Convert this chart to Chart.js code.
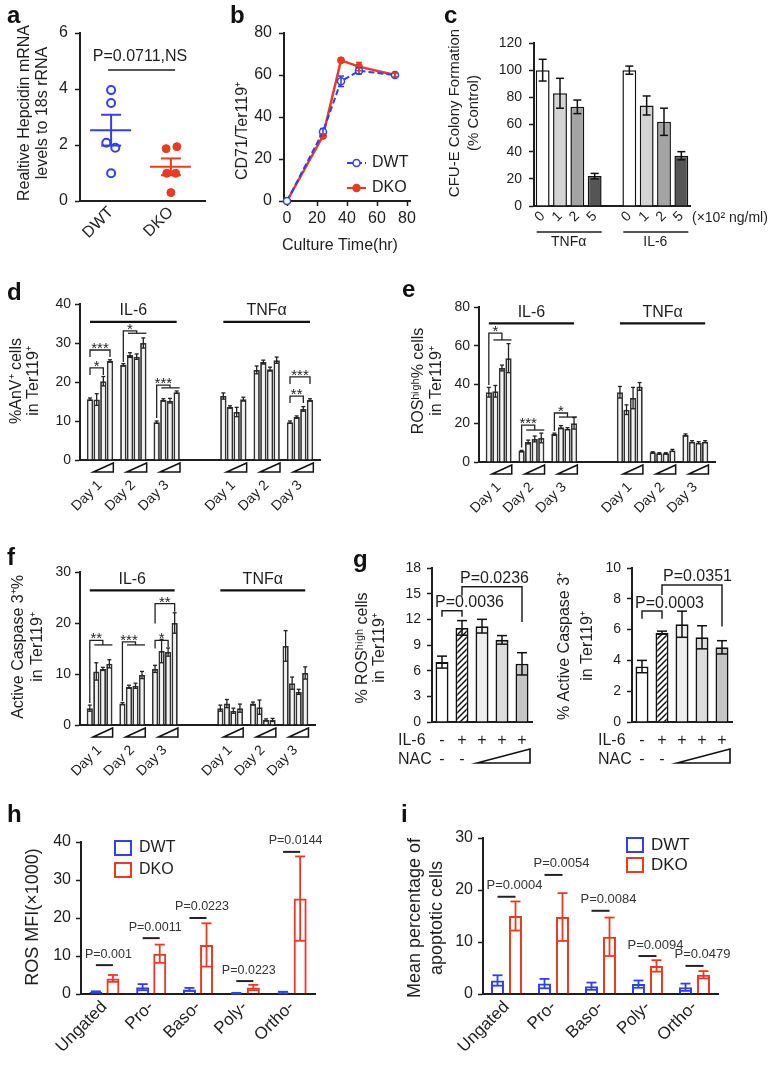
<!DOCTYPE html>
<html><head><meta charset="utf-8"><title>Figure</title>
<script src="https://cdn.jsdelivr.net/npm/chart.js@4.4.1/dist/chart.umd.min.js"></script>
<style>
html,body{margin:0;padding:0;background:#fff;}
#wrap{position:relative;width:772px;height:1068px;overflow:hidden;background:#fff;}
#wrap canvas{position:absolute;left:0;top:0;}
</style></head>
<body><div id="wrap"></div>
<script>
// ===================== DATA =====================
// Panel a
const aGroups = ['DWT', 'DKO'];
const aDWTx = [1.0, 1.0, 0.92, 1.07, 1.0];
const aDWTy = [3.96, 3.5, 2.08, 1.9, 0.99];
const aDKOx = [1.92, 2.1, 1.93, 2.08, 2.0];
const aDKOy = [1.87, 1.94, 0.99, 0.99, 0.3];
const aMean = [2.53, 1.22];
const aSEM = [0.55, 0.3];
const aPLabel = 'P=0.0711,NS';
const aPLevel = 4.68;

// Panel b
const bTime = [0, 24, 36, 48, 72];
const bDWT = [0, 33, 57, 62, 60];
const bDWTerr = [0, 1.5, 2.5, 1.5, 1];
const bDKO = [0, 31, 67, 64, 60];
const bDKOerr = [0, 1, 1, 2, 1];
const bXTicks = [0, 20, 40, 60, 80];

// Panel c
const cDoses = ['0', '1', '2', '5'];
const cTNF = [100, 83, 73, 22];
const cTNFerr = [8, 11, 5, 2];
const cIL6 = [100, 74, 62, 37];
const cIL6err = [3, 7, 10, 3];

// Panels d-f (4 doses per day, days 1-3)
const dayLabels = ['Day 1', 'Day 2', 'Day 3'];
const dIL6 = [15.6, 15.5, 20.2, 25.4, 24.4, 26.9, 26.5, 30.0, 9.7, 15.4, 15.2, 17.4];
const dIL6err = [0.3, 1.5, 1.2, 0.3, 0.3, 0.6, 0.7, 1.3, 0.3, 0.3, 0.6, 0.3];
const dTNF = [16.4, 13.6, 12.3, 15.6, 23.1, 25.1, 23.3, 25.6, 9.7, 11.0, 13.1, 15.4];
const dTNFerr = [0.8, 0.3, 1.2, 0.5, 1.0, 0.5, 0.5, 0.8, 0.3, 0.3, 0.6, 0.3];
const eIL6 = [36.0, 36.5, 48.5, 53.6, 5.7, 10.3, 11.9, 12.4, 14.4, 18.0, 17.2, 20.0];
const eIL6err = [2.5, 3.0, 1.5, 7.5, 0.3, 1.0, 1.5, 2.5, 0.5, 0.8, 0.5, 3.0];
const eTNF = [36.0, 27.0, 33.0, 39.0, 5.0, 4.5, 4.5, 6.0, 14.0, 10.5, 10.0, 10.5];
const eTNFerr = [3.0, 2.5, 5.5, 2.0, 0.3, 0.3, 0.3, 0.5, 0.5, 0.5, 0.5, 0.5];
const fIL6 = [3.3, 10.5, 11.0, 12.0, 4.2, 7.5, 7.7, 9.8, 11.0, 14.5, 14.3, 20.0];
const fIL6err = [0.6, 1.7, 0.3, 0.8, 0.2, 0.3, 0.5, 0.7, 0.7, 2.3, 0.8, 2.0];
const fTNF = [3.3, 4.2, 2.8, 3.3, 4.2, 3.5, 1.0, 1.0, 15.5, 8.2, 6.5, 10.2];
const fTNFerr = [0.6, 0.8, 0.5, 0.8, 0.3, 1.4, 0.2, 0.3, 3.0, 1.2, 0.5, 1.2];

// Panel g
const gIL6Row = ['-', '+', '+', '+', '+'];
const gNACRow = ['-', '-', '', '', ''];
const gROS = [7.0, 11.0, 11.2, 9.6, 6.8];
const gROSerr = [0.7, 0.85, 0.8, 0.5, 1.3];
const gCasp = [3.6, 5.8, 6.35, 5.5, 4.85];
const gCaspErr = [0.4, 0.1, 0.85, 0.75, 0.43];

// Panels h, i
const stages = ['Ungated', 'Pro-', 'Baso-', 'Poly-', 'Ortho-'];
const hDWT = [0.5, 1.8, 1.2, 0.2, 0.4];
const hDWTerr = [0.2, 0.8, 0.4, 0.1, 0.2];
const hDKO = [4.1, 10.6, 12.9, 1.7, 25.1];
const hDKOerr = [0.9, 2.4, 5.7, 0.7, 11.1];
const hP = ['P=0.001', 'P=0.0011', 'P=0.0223', 'P=0.0223', 'P=0.0144'];
const hPLevel = [7.6, 14.7, 20.0, 3.4, 37.4];
const iDWT = [2.6, 2.0, 1.5, 1.9, 1.3];
const iDWTerr = [1.0, 0.9, 0.7, 0.7, 0.7];
const iDKO = [15.0, 14.8, 11.0, 5.4, 3.7];
const iDKOerr = [2.8, 4.6, 3.7, 1.1, 0.7];
const iP = ['P=0.0004', 'P=0.0054', 'P=0.0084', 'P=0.0094', 'P=0.0479'];
const iPLevel = [18.7, 22.9, 16.0, 7.3, 5.4];

// ===================== HELPERS =====================
const W = 772, H = 1068, YW = 40, XH = 70;
const F = "'Liberation Sans', Arial, Helvetica, sans-serif";
const INK = '#1e1e1e', BLUE = '#3040f0', RED = '#ea3a22';

function mkCanvas() {
  const c = document.createElement('canvas');
  c.width = W; c.height = H; c.style.width = W + 'px'; c.style.height = H + 'px';
  document.getElementById('wrap').appendChild(c);
  return c;
}
function fnt(size, bold) { return (bold ? 'bold ' : '') + size + 'px ' + F; }
function T(ctx, s, x, y, size, align, o) {
  o = o || {};
  ctx.save(); ctx.font = fnt(size, o.bold); ctx.fillStyle = o.color || INK;
  ctx.textAlign = align || 'center'; ctx.textBaseline = o.base || 'middle';
  if (o.rot) { ctx.translate(x, y); ctx.rotate(o.rot); ctx.fillText(s, 0, 0); } else ctx.fillText(s, x, y);
  ctx.restore();
}
function L(ctx, pts, color, lw, dash) {
  ctx.save(); ctx.strokeStyle = color || INK; ctx.lineWidth = lw || 1.5; ctx.setLineDash(dash || []);
  ctx.beginPath(); pts.forEach((p, i) => i ? ctx.lineTo(p[0], p[1]) : ctx.moveTo(p[0], p[1])); ctx.stroke(); ctx.restore();
}
function VT(ctx, lines, xs, yc, size) { lines.forEach((s, i) => T(ctx, s, xs[i], yc, size, 'center', { rot: -Math.PI / 2 })); }
function LET(ctx, s, x, y) { T(ctx, s, x, y, 24, 'left', { bold: true, base: 'alphabetic', color: '#111' }); }
function errBars(ch, di, errs, color, lw, cap) {
  const meta = ch.getDatasetMeta(di), ds = ch.data.datasets[di], ys = ch.scales.y, ctx = ch.ctx;
  meta.data.forEach((el, i) => {
    const raw = ds.data[i]; const v = (raw && typeof raw === 'object') ? raw.y : raw; const e = errs[i];
    if (v == null || !e) return;
    const x = el.x, y1 = ys.getPixelForValue(v + e), y2 = ys.getPixelForValue(v - e);
    L(ctx, [[x, y1], [x, y2]], color, lw);
    L(ctx, [[x - cap / 2, y1], [x + cap / 2, y1]], color, lw);
    L(ctx, [[x - cap / 2, y2], [x + cap / 2, y2]], color, lw);
  });
}
function extra(fn) { return { id: 'extra', afterDraw: fn }; }
function base(box, scales) {
  return {
    responsive: false, maintainAspectRatio: false, animation: false, events: [], devicePixelRatio: 1,
    layout: { padding: { left: box[0] - YW, top: box[1], right: W - box[2], bottom: Math.max(0, H - box[3] - XH) } },
    plugins: { legend: { display: false }, tooltip: { enabled: false } }, scales
  };
}
function yAxis(min, max, step, fs, pad) {
  return {
    type: 'linear', min, max,
    ticks: { stepSize: step, color: INK, font: { family: F, size: fs }, padding: pad },
    grid: { display: true, drawOnChartArea: false, drawTicks: true, tickLength: 5, tickColor: INK, tickWidth: 1.5, color: INK },
    border: { display: true, color: INK, width: 2 },
    afterFit(s) { s.width = YW; }
  };
}
function xLin(min, max, tickVals, cb, fs, rot, pad, ticksOn) {
  return {
    type: 'linear', min, max,
    afterBuildTicks(s) { s.ticks = tickVals.map(v => ({ value: v })); },
    ticks: { callback: cb, autoSkip: false, minRotation: rot, maxRotation: rot, color: INK, font: { family: F, size: fs }, padding: pad },
    grid: { display: !!ticksOn, drawOnChartArea: false, drawTicks: !!ticksOn, tickLength: 5, tickColor: INK, tickWidth: 1.5 },
    border: { display: true, color: INK, width: 2 },
    afterFit(s) { s.height = XH; }
  };
}
function xCat(cb, fs, rot, pad, labelOffset) {
  return {
    type: 'category',
    ticks: { callback: cb, autoSkip: false, minRotation: rot, maxRotation: rot, color: INK, font: { family: F, size: fs }, padding: pad, labelOffset: labelOffset || 0 },
    grid: { display: false, drawTicks: false },
    border: { display: true, color: INK, width: 2 },
    afterFit(s) { s.height = XH; }
  };
}

// ===================== PANEL a =====================
new Chart(mkCanvas(), {
  type: 'scatter',
  data: { datasets: [
    { label: aGroups[0], data: aDWTx.map((x, i) => ({ x, y: aDWTy[i] })), pointRadius: 4, pointBorderWidth: 2, pointBorderColor: BLUE, pointBackgroundColor: '#fff', clip: false },
    { label: aGroups[1], data: aDKOx.map((x, i) => ({ x, y: aDKOy[i] })), pointRadius: 4, pointBorderWidth: 1, pointBorderColor: RED, pointBackgroundColor: RED, clip: false }
  ] },
  options: base([80, 33, 205, 201], {
    x: xLin(0.48, 2.57, aGroups.map((_, i) => i + 1), (v, i) => aGroups[i], 16, 45, 2, false),
    y: yAxis(0, 6, 2, 16, 7)
  }),
  plugins: [extra(ch => {
    const { ctx, scales: { x, y } } = ch;
    [BLUE, RED].forEach((col, i) => {
      const cx = x.getPixelForValue(i + 1);
      const ym = y.getPixelForValue(aMean[i]), yt = y.getPixelForValue(aMean[i] + aSEM[i]), yb = y.getPixelForValue(aMean[i] - aSEM[i]);
      L(ctx, [[cx - 21, ym], [cx + 20, ym]], col, 2);
      L(ctx, [[cx, yt], [cx, yb]], col, 2);
      L(ctx, [[cx - 10, yt], [cx + 10, yt]], col, 2);
      L(ctx, [[cx - 10, yb], [cx + 10, yb]], col, 2);
    });
    const py = y.getPixelForValue(aPLevel);
    L(ctx, [[x.getPixelForValue(0.95), py], [x.getPixelForValue(2.07), py]], INK, 1.5);
    T(ctx, aPLabel, 140, py - 13, 16);
    VT(ctx, ['Realtive Hepcidin mRNA', 'levels to 18s rRNA'], [25, 43], 113, 16);
    LET(ctx, 'a', 7, 23);
  })]
});

// ===================== PANEL b =====================
new Chart(mkCanvas(), {
  type: 'scatter',
  data: { datasets: [
    { label: 'DWT', data: bTime.map((t, i) => ({ x: t, y: bDWT[i] })), showLine: true, borderColor: BLUE, borderWidth: 2, borderDash: [6, 3], pointRadius: 3.5, pointBorderWidth: 1.5, pointBorderColor: BLUE, pointBackgroundColor: '#fff', clip: false },
    { label: 'DKO', data: bTime.map((t, i) => ({ x: t, y: bDKO[i] })), showLine: true, borderColor: RED, borderWidth: 2.5, pointRadius: 3.5, pointBorderWidth: 1, pointBorderColor: RED, pointBackgroundColor: RED, clip: false }
  ] },
  options: base([284, 33, 410, 201], {
    x: xLin(-2, 82, bXTicks, v => v, 16, 0, 3, true),
    y: yAxis(0, 80, 20, 16, 7)
  }),
  plugins: [extra(ch => {
    const ctx = ch.ctx;
    errBars(ch, 0, bDWTerr, BLUE, 1.5, 6);
    errBars(ch, 1, bDKOerr, RED, 1.5, 6);
    const lg = [[0, 163, true], [1, 188, false]];
    lg.forEach(([k, yy, open]) => {
      const ds = ch.data.datasets[k];
      L(ctx, [[347, yy], [366, yy]], ds.borderColor, 2, ds.borderDash || []);
      ctx.save(); ctx.beginPath(); ctx.arc(356.5, yy, 3.5, 0, Math.PI * 2);
      ctx.fillStyle = open ? '#fff' : ds.borderColor; ctx.fill(); ctx.lineWidth = 1.5; ctx.strokeStyle = ds.borderColor; ctx.stroke(); ctx.restore();
      T(ctx, ds.label, 372, yy, 16, 'left');
    });
    T(ctx, 'Culture Time(hr)', 340, 246, 16);
    VT(ctx, ['CD71/Ter119\u207A'], [243], 131, 16);
    LET(ctx, 'b', 230, 23);
  })]
});

// ===================== PANEL c =====================
const cLabels = cDoses.concat([''], cDoses);
const cData = cTNF.concat([null], cIL6);
const cErr = cTNFerr.concat([null], cIL6err);
const cShades = ['#ffffff', '#d4d4d4', '#a4a4a4', '#555555'];
new Chart(mkCanvas(), {
  type: 'bar',
  data: { labels: cLabels, datasets: [{ data: cData, backgroundColor: cShades.concat(['#fff'], cShades), borderColor: '#111', borderWidth: 1.5, borderSkipped: 'start', barPercentage: 0.8, categoryPercentage: 1 }] },
  options: base([534, 43, 690, 206], {
    x: xCat((v, i) => cLabels[i], 14, 45, 2),
    y: yAxis(0, 120, 20, 14, 7)
  }),
  plugins: [extra(ch => {
    const ctx = ch.ctx, x = ch.scales.x;
    errBars(ch, 0, cErr, '#111', 1.5, 8);
    L(ctx, [[x.getPixelForValue(0) - 6, 232], [x.getPixelForValue(3) + 7, 232]], INK, 1.5);
    L(ctx, [[x.getPixelForValue(5) - 6, 232], [x.getPixelForValue(8) + 7, 232]], INK, 1.5);
    T(ctx, 'TNF\u03B1', (x.getPixelForValue(0) + x.getPixelForValue(3)) / 2, 242, 14);
    T(ctx, 'IL-6', (x.getPixelForValue(5) + x.getPixelForValue(8)) / 2, 242, 14);
    T(ctx, '(\u00D710\u00B2 ng/ml)', 692, 218, 14, 'left');
    VT(ctx, ['CFU-E Colony Formation', '(% Control)'], [455, 474], 113, 15);
    LET(ctx, 'c', 444, 23);
  })]
});

// ===================== PANELS d, e, f =====================
const SLOTS = 36;
const GROUP_START = [1, 6, 11, 21, 26, 31];
function slotArray(a, b) {
  const arr = new Array(SLOTS).fill(null); const all = a.concat(b);
  GROUP_START.forEach((s, g) => { for (let k = 0; k < 4; k++) arr[s + k] = all[g * 4 + k]; });
  return arr;
}
const dSig = [
  { t: 'pair', g: 0, a: 0, b: 3, top: 28.2, lab: '***' },
  { t: 'pair', g: 0, a: 0, b: 2, top: 23.6, lab: '*' },
  { t: 'grp', g: 1, top: 33.1, leg: 25.1, gy: 32.5, lab: '*' },
  { t: 'grp', g: 2, top: 19.2, leg: 10.8, gy: 18.5, lab: '***' },
  { t: 'pair', g: 5, a: 0, b: 3, top: 21.3, lab: '***' },
  { t: 'pair', g: 5, a: 0, b: 2, top: 16.4, lab: '**' }
];
const eSig = [
  { t: 'grp', g: 0, top: 66.5, leg: 39.7, gy: 63, lab: '*' },
  { t: 'grp', g: 1, top: 19, leg: 7.5, gy: 16.5, lab: '***' },
  { t: 'grp', g: 2, top: 25.3, leg: 16, gy: 23.2, lab: '*' }
];
const fSig = [
  { t: 'grp', g: 0, top: 16.6, leg: 4.3, gy: 15.7, lab: '**' },
  { t: 'grp', g: 1, top: 16.3, leg: 4.7, gy: 15.7, lab: '***' },
  { t: 'pair', g: 2, a: 0, b: 2, top: 16.6, lb: 15.0, rb: 15.3, lab: '*' },
  { t: 'pair', g: 2, a: 0, b: 3, top: 23.8, lb: 19.9, rb: 22.2, lab: '**' }
];
function dayChart(cfg) {
  const data = slotArray(cfg.il6, cfg.tnf), errs = slotArray(cfg.il6e, cfg.tnfe);
  const slotW = (cfg.box[2] - cfg.box[0]) / SLOTS;
  return new Chart(mkCanvas(), {
    type: 'bar',
    data: { labels: Array.from({ length: SLOTS }, (_, i) => 's' + i), datasets: [{ data, backgroundColor: '#f2f2f2', borderColor: '#333333', borderWidth: 1.8, borderSkipped: 'start', categoryPercentage: 0.96, barPercentage: 1 }] },
    options: base(cfg.box, {
      x: xCat((v, i) => { const g = GROUP_START.findIndex(s => s + 1 === i); return g >= 0 ? dayLabels[g % 3] : ''; }, 14, 45, 17, slotW / 2),
      y: yAxis(0, cfg.ymax, cfg.ystep, 14, 4)
    }),
    plugins: [extra(ch => {
      const ctx = ch.ctx, x = ch.scales.x, y = ch.scales.y;
      const X = i => x.getPixelForValue(i), Y = v => y.getPixelForValue(v);
      errBars(ch, 0, errs, '#222', 1.3, 4);
      const hy = Y(cfg.hdr);
      [[1, 14, 'IL-6'], [21, 34, 'TNF\u03B1']].forEach(([a, b, s]) => {
        L(ctx, [[X(a), hy], [X(b), hy]], '#111', 2.2);
        T(ctx, s, (X(a) + X(b)) / 2, hy - 11, 16);
      });
      cfg.sig.forEach(s => {
        const st = GROUP_START[s.g];
        const yt = Y(s.top);
        if (s.t === 'pair') {
          const x1 = X(st + s.a), x2 = X(st + s.b);
          const yl = s.lb != null ? Y(s.lb) : yt + 7, yr = s.rb != null ? Y(s.rb) : yt + 7;
          L(ctx, [[x1, yl], [x1, yt], [x2, yt], [x2, yr]], '#222', 1.3);
          T(ctx, s.lab, (x1 + x2) / 2, yt + 3, 15, 'center', { base: 'alphabetic' });
        } else {
          const x1 = X(st), xm = X(st + 2);
          L(ctx, [[x1, Y(s.leg)], [x1, yt], [xm, yt], [xm, Y(s.gy)]], '#222', 1.3);
          L(ctx, [[X(st + 1) - 2, Y(s.gy)], [X(st + 3) + 3, Y(s.gy)]], '#222', 1.3);
          T(ctx, s.lab, (x1 + xm) / 2, yt + 3, 15, 'center', { base: 'alphabetic' });
        }
      });
      const ay = y.bottom;
      GROUP_START.forEach(st => {
        const xl = X(st + 1) - slotW / 2, xr = X(st + 3) + slotW / 2;
        ctx.save(); ctx.beginPath(); ctx.moveTo(xl, ay + 12); ctx.lineTo(xr, ay + 3); ctx.lineTo(xr, ay + 12); ctx.closePath();
        ctx.fillStyle = '#fff'; ctx.fill(); ctx.strokeStyle = '#111'; ctx.lineWidth = 1.5; ctx.stroke(); ctx.restore();
      });
      VT(ctx, cfg.title, cfg.tx, cfg.ty, 16);
      LET(ctx, cfg.letter, cfg.lx, cfg.ly);
    })]
  });
}
dayChart({ box: [80, 304, 320, 460], il6: dIL6, il6e: dIL6err, tnf: dTNF, tnfe: dTNFerr, ymax: 40, ystep: 10, hdr: 35.4, sig: dSig,
  title: ['%AnV\u207A cells', 'in Ter119\u207A'], tx: [17, 34], ty: 381, letter: 'd', lx: 7, ly: 300 });
dayChart({ box: [479, 307, 715, 462], il6: eIL6, il6e: eIL6err, tnf: eTNF, tnfe: eTNFerr, ymax: 80, ystep: 20, hdr: 71.6, sig: eSig,
  title: ['ROS\u02B0\u2071\u1D4D\u02B0% cells', 'in Ter119\u207A'], tx: [419, 437], ty: 381, letter: 'e', lx: 402, ly: 297 });
dayChart({ box: [80, 572, 315, 725], il6: fIL6, il6e: fIL6err, tnf: fTNF, tnfe: fTNFerr, ymax: 30, ystep: 10, hdr: 26.4, sig: fSig,
  title: ['Active Caspase 3\u207A%', 'in Ter119\u207A'], tx: [19, 38], ty: 647, letter: 'f', lx: 7, ly: 565 });

// ===================== PANEL g =====================
function hatchFor(ctx) {
  const c = document.createElement('canvas'); c.width = 6; c.height = 6;
  const g = c.getContext('2d'); g.fillStyle = '#fff'; g.fillRect(0, 0, 6, 6);
  g.strokeStyle = '#111'; g.lineWidth = 1.5; g.beginPath();
  g.moveTo(0, 6); g.lineTo(6, 0); g.moveTo(-1, 1); g.lineTo(1, -1); g.moveTo(5, 7); g.lineTo(7, 5); g.stroke();
  return ctx.createPattern(c, 'repeat');
}
function gChart(cfg) {
  const cv = mkCanvas();
  const pat = hatchFor(cv.getContext('2d'));
  const labels = gIL6Row.map((s, i) => [s, gNACRow[i]]);
  return new Chart(cv, {
    type: 'bar',
    data: { labels: labels.map((l, i) => 'g' + i), datasets: [{ data: cfg.vals, backgroundColor: ['#ffffff', pat, '#eeeeee', '#dddddd', '#c6c6c6'], borderColor: '#111', borderWidth: 1.8, borderSkipped: 'start', categoryPercentage: 1, barPercentage: 0.65 }] },
    options: base(cfg.box, {
      x: xCat((v, i) => labels[i], 16, 0, 9),
      y: yAxis(0, cfg.ymax, cfg.ystep, 14, 6)
    }),
    plugins: [extra(ch => {
      const ctx = ch.ctx, x = ch.scales.x, y = ch.scales.y;
      const X = i => x.getPixelForValue(i), Y = v => y.getPixelForValue(v);
      errBars(ch, 0, cfg.errs, '#111', 1.5, 10);
      cfg.br.forEach(b => {
        L(ctx, [[X(b.a), Y(b.lb)], [X(b.a), Y(b.top)], [X(b.b), Y(b.top)], [X(b.b), Y(b.rb)]], '#222', 1.5);
        T(ctx, b.lab, X(b.a) + b.dx, Y(b.top) - 8, 16, 'left');
      });
      const ax = y.bottom;
      T(ctx, 'IL-6', cfg.rowX, ax + 19, 16, 'left');
      T(ctx, 'NAC', cfg.rowX, ax + 38, 16, 'left');
      const xl = X(2) - 5, xr = X(4) + 8;
      ctx.save(); ctx.beginPath(); ctx.moveTo(xl, ax + 41); ctx.lineTo(xr, ax + 27); ctx.lineTo(xr, ax + 41); ctx.closePath();
      ctx.fillStyle = '#fff'; ctx.fill(); ctx.strokeStyle = '#111'; ctx.lineWidth = 1.6; ctx.stroke(); ctx.restore();
      VT(ctx, cfg.title, cfg.tx, cfg.ty, 16);
      if (cfg.letter) LET(ctx, cfg.letter, 353, 567);
    })]
  });
}
gChart({ box: [432, 568, 532, 722], vals: gROS, errs: gROSerr, ymax: 18, ystep: 3, rowX: 398,
  br: [{ a: 0, b: 1, top: 13.0, lb: 12.3, rb: 12.3, lab: 'P=0.0036', dx: -7 }, { a: 1, b: 4, top: 15.8, lb: 14.8, rb: 11.7, lab: 'P=0.0236', dx: -2 }],
  title: ['% ROS\u02B0\u2071\u1D4D\u02B0 cells', 'in Ter119\u207A'], tx: [363, 380], ty: 648, letter: 'g' });
gChart({ box: [632, 568, 732, 722], vals: gCasp, errs: gCaspErr, ymax: 10, ystep: 2, rowX: 598,
  br: [{ a: 0, b: 1, top: 7.2, lb: 6.7, rb: 6.7, lab: 'P=0.0003', dx: -7 }, { a: 1, b: 4, top: 8.9, lb: 8.25, rb: 6.2, lab: 'P=0.0351', dx: 1 }],
  title: ['% Active Caspase 3\u207A', 'in Ter119\u207A'], tx: [565, 588], ty: 646, letter: null });

// ===================== PANELS h, i =====================
function stageChart(cfg) {
  return new Chart(mkCanvas(), {
    type: 'bar',
    data: { labels: stages, datasets: [
      { label: 'DWT', data: cfg.dwt, backgroundColor: 'rgba(255,255,255,0)', borderColor: BLUE, borderWidth: 2, borderSkipped: 'start', categoryPercentage: cfg.cp, barPercentage: cfg.bp },
      { label: 'DKO', data: cfg.dko, backgroundColor: 'rgba(255,255,255,0)', borderColor: RED, borderWidth: 2, borderSkipped: 'start', categoryPercentage: cfg.cp, barPercentage: cfg.bp }
    ] },
    options: base(cfg.box, {
      x: xCat((v, i) => stages[i], 17, 45, 3),
      y: yAxis(0, cfg.ymax, 10, 16, 5)
    }),
    plugins: [extra(ch => {
      const ctx = ch.ctx, y = ch.scales.y;
      errBars(ch, 0, cfg.dwtErr, BLUE, 1.8, 10);
      errBars(ch, 1, cfg.dkoErr, RED, 1.8, 10);
      const m0 = ch.getDatasetMeta(0).data, m1 = ch.getDatasetMeta(1).data;
      cfg.p.forEach((s, i) => {
        const yy = y.getPixelForValue(cfg.pl[i]);
        L(ctx, [[m0[i].x, yy], [m1[i].x, yy]], '#222', 2);
        T(ctx, s, (m0[i].x + m1[i].x) / 2 + cfg.pdx, yy - 11, cfg.pfs, 'center', { color: '#333' });
      });
      ch.data.datasets.forEach((ds, k) => {
        const yy = cfg.leg[1] + k * cfg.leg[2];
        ctx.save(); ctx.strokeStyle = ds.borderColor; ctx.lineWidth = 2; ctx.strokeRect(cfg.leg[0], yy - 7, 16, 14); ctx.restore();
        T(ctx, ds.label, cfg.leg[0] + 24, yy, cfg.legFs, 'left');
      });
      VT(ctx, cfg.title, cfg.tx, cfg.ty, 18);
      LET(ctx, cfg.letter, cfg.lx, cfg.ly);
    })]
  });
}
stageChart({ box: [81, 842, 315, 994], dwt: hDWT, dwtErr: hDWTerr, dko: hDKO, dkoErr: hDKOerr, ymax: 40, cp: 0.73, bp: 0.76,
  p: hP, pl: hPLevel, pdx: 4, pfs: 12.5, leg: [115, 848, 22], legFs: 16,
  title: ['ROS MFI(\u00D71000)'], tx: [33], ty: 917, letter: 'h', lx: 7, ly: 822 });
stageChart({ box: [483, 838, 718, 994], dwt: iDWT, dwtErr: iDWTerr, dko: iDKO, dkoErr: iDKOerr, ymax: 30, cp: 0.766, bp: 0.72,
  p: iP, pl: iPLevel, pdx: 8, pfs: 13, leg: [627, 845, 20], legFs: 17,
  title: ['Mean percentage of', 'apoptotic cells'], tx: [415, 437], ty: 918, letter: 'i', lx: 401, ly: 822 });
</script>
</body></html>
